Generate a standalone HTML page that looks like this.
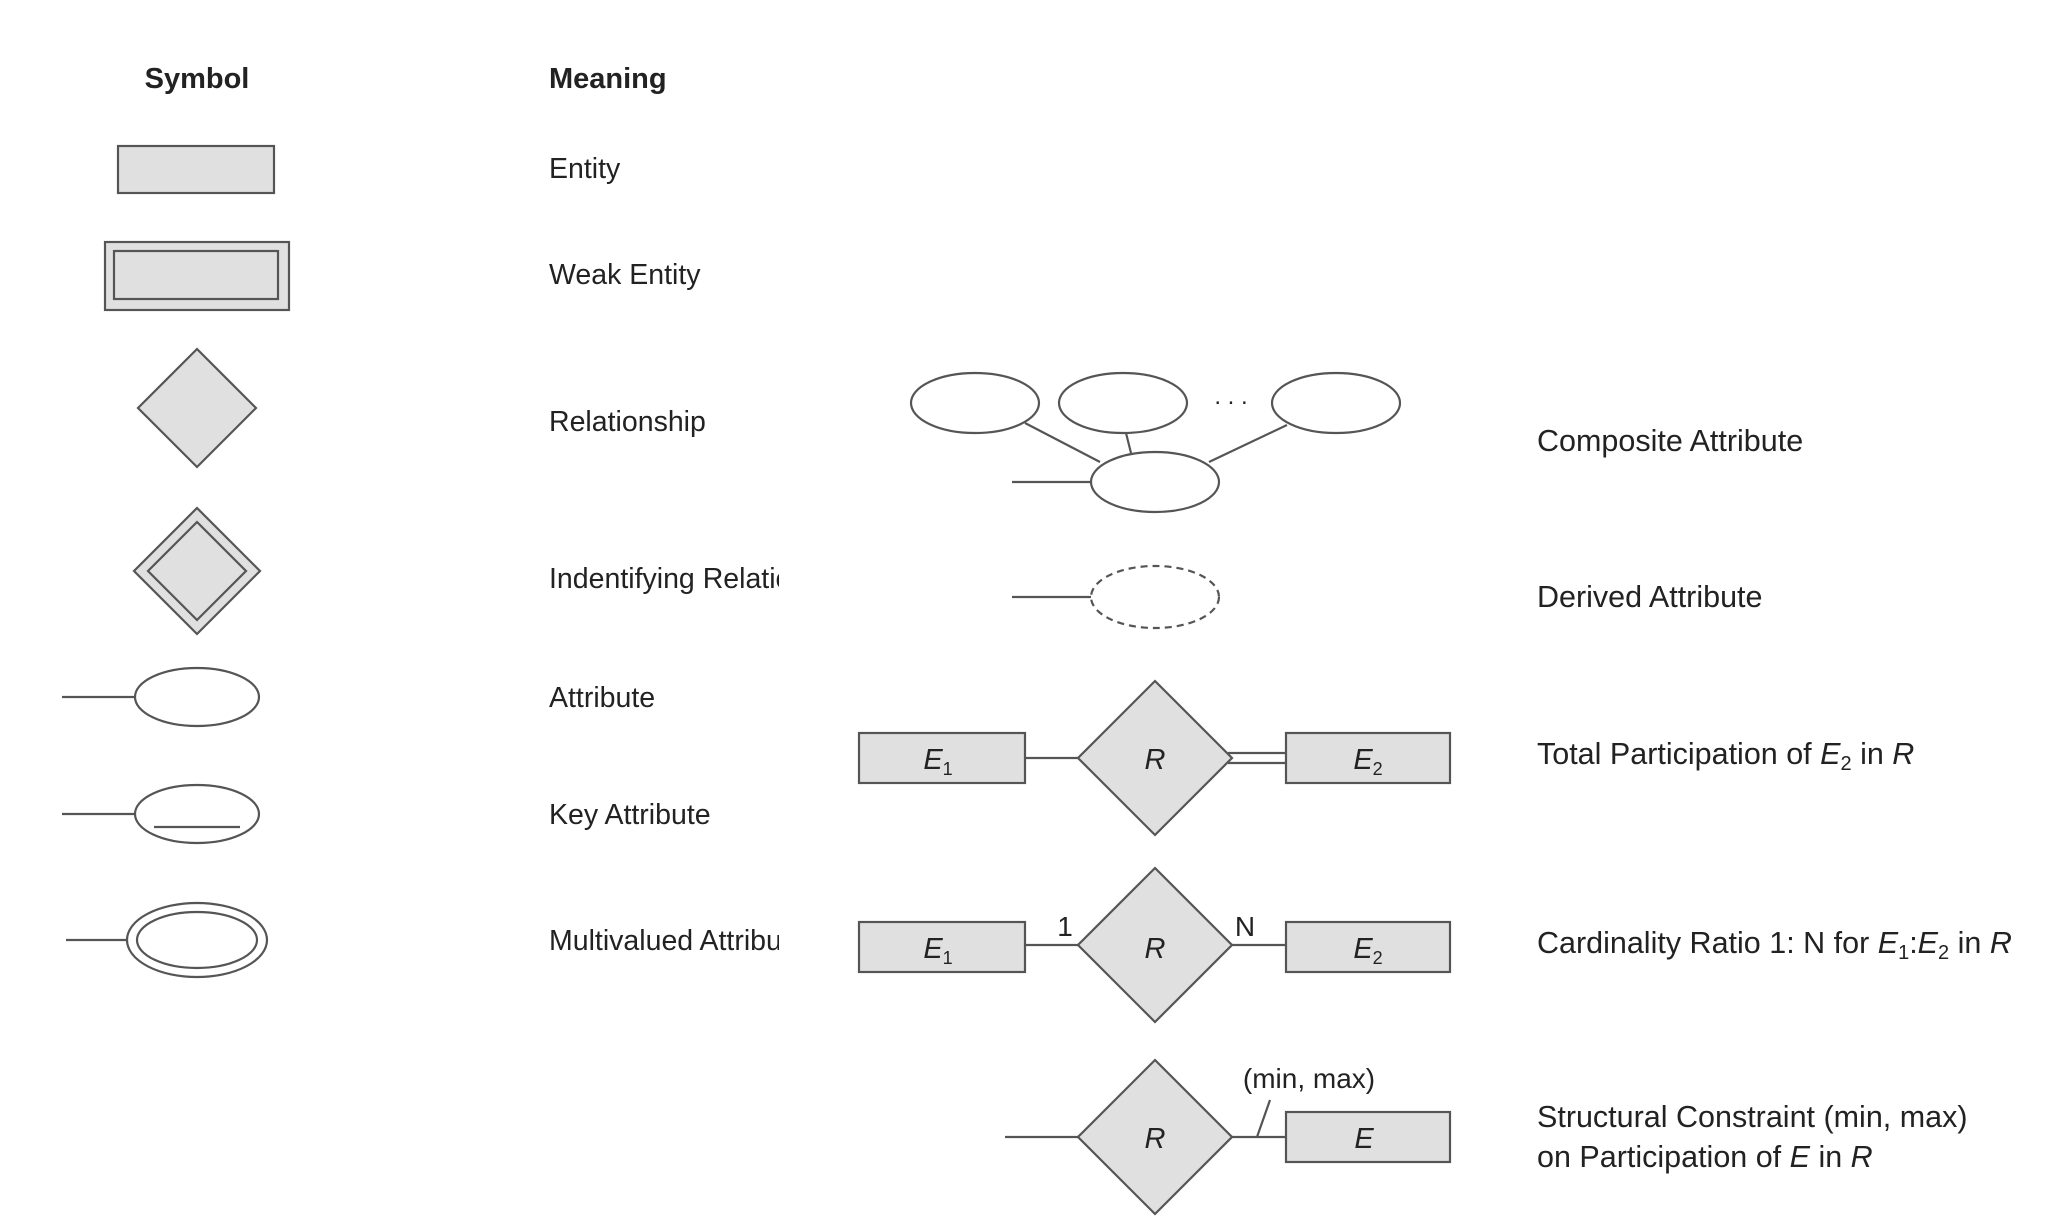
<!DOCTYPE html>
<html><head><meta charset="utf-8"><style>
html,body{margin:0;padding:0;background:#fff;}
svg{display:block;}
text{font-family:"Liberation Sans",Arial,sans-serif;fill:#222;}
</style></head><body>
<svg width="2048" height="1231" viewBox="0 0 2048 1231" xmlns="http://www.w3.org/2000/svg">
<g stroke="#555" stroke-width="2.2" fill="none">
<rect x="118" y="146" width="156" height="47" fill="#e0e0e0"/>
<rect x="105" y="242" width="184" height="68" fill="#e0e0e0"/>
<rect x="114" y="251" width="164" height="48" fill="#e0e0e0"/>
<polygon points="197,349 256,408 197,467 138,408" fill="#e0e0e0"/>
<polygon points="197,508 260,571 197,634 134,571" fill="#e0e0e0"/>
<polygon points="197,522 246,571 197,620 148,571" fill="#e0e0e0"/>
<line x1="62" y1="697" x2="135" y2="697"/>
<ellipse cx="197" cy="697" rx="62" ry="29" fill="#fff"/>
<line x1="62" y1="814" x2="135" y2="814"/>
<ellipse cx="197" cy="814" rx="62" ry="29" fill="#fff"/>
<line x1="154" y1="827" x2="240" y2="827"/>
<line x1="66" y1="940" x2="127" y2="940"/>
<ellipse cx="197" cy="940" rx="70" ry="37" fill="#fff"/>
<ellipse cx="197" cy="940" rx="60" ry="28" fill="#fff"/>
</g>
<g transform="translate(-6,0)">
<g stroke="#555" stroke-width="2.2" fill="none">
<line x1="1031" y1="423" x2="1106" y2="462"/>
<line x1="1132" y1="433" x2="1137" y2="453"/>
<line x1="1293" y1="425" x2="1215" y2="462"/>
<line x1="1018" y1="482" x2="1097" y2="482"/>
<ellipse cx="981" cy="403" rx="64" ry="30" fill="#fff"/>
<ellipse cx="1129" cy="403" rx="64" ry="30" fill="#fff"/>
<ellipse cx="1342" cy="403" rx="64" ry="30" fill="#fff"/>
<ellipse cx="1161" cy="482" rx="64" ry="30" fill="#fff"/>
<line x1="1018" y1="597" x2="1097" y2="597"/>
<ellipse cx="1161" cy="597" rx="64" ry="31" fill="#fff" stroke-dasharray="7,5"/>
<rect x="865" y="733" width="166" height="50" fill="#e0e0e0"/>
<rect x="1292" y="733" width="164" height="50" fill="#e0e0e0"/>
<line x1="1031" y1="758" x2="1084" y2="758"/>
<line x1="1234" y1="753" x2="1292" y2="753"/>
<line x1="1234" y1="763" x2="1292" y2="763"/>
<polygon points="1161,681 1238,758 1161,835 1084,758" fill="#e0e0e0"/>
<rect x="865" y="922" width="166" height="50" fill="#e0e0e0"/>
<rect x="1292" y="922" width="164" height="50" fill="#e0e0e0"/>
<line x1="1031" y1="945" x2="1084" y2="945"/>
<line x1="1238" y1="945" x2="1292" y2="945"/>
<polygon points="1161,868 1238,945 1161,1022 1084,945" fill="#e0e0e0"/>
<rect x="1292" y="1112" width="164" height="50" fill="#e0e0e0"/>
<line x1="1011" y1="1137" x2="1084" y2="1137"/>
<line x1="1238" y1="1137" x2="1292" y2="1137"/>
<line x1="1263" y1="1137" x2="1276" y2="1100"/>
<polygon points="1161,1060 1238,1137 1161,1214 1084,1137" fill="#e0e0e0"/>
</g>
<text x="1237" y="404" font-size="24" text-anchor="middle">. . .</text>
<g font-size="29" text-anchor="middle" font-style="italic">
<text x="944" y="769">E<tspan font-size="18" dy="6" font-style="normal">1</tspan></text>
<text x="1374" y="769">E<tspan font-size="18" dy="6" font-style="normal">2</tspan></text>
<text x="1161" y="769">R</text>
<text x="944" y="958">E<tspan font-size="18" dy="6" font-style="normal">1</tspan></text>
<text x="1374" y="958">E<tspan font-size="18" dy="6" font-style="normal">2</tspan></text>
<text x="1161" y="958">R</text>
<text x="1161" y="1148">R</text>
<text x="1370" y="1148">E</text>
</g>
<text x="1071" y="936" font-size="28" text-anchor="middle">1</text>
<text x="1251" y="936" font-size="28" text-anchor="middle">N</text>
<text x="1315" y="1088" font-size="28" text-anchor="middle">(min, max)</text>
</g>
<text x="197" y="88" font-size="29" font-weight="bold" text-anchor="middle">Symbol</text>
<text x="549" y="88" font-size="29" font-weight="bold">Meaning</text>
<g font-size="28.5">
<text x="549" y="178">Entity</text>
<text x="549" y="284">Weak Entity</text>
<text x="549" y="431">Relationship</text>
<svg x="0" y="0" width="779" height="1231" overflow="hidden"><text x="549" y="588" font-size="28.5">Indentifying Relationship</text><text x="549" y="950" font-size="28.5">Multivalued Attribute</text></svg>
<text x="549" y="707">Attribute</text>
<text x="549" y="824">Key Attribute</text>
</g>
<g font-size="30.5">
<text x="1537" y="451">Composite Attribute</text>
<text x="1537" y="607">Derived Attribute</text>
<text x="1537" y="764">Total Participation of <tspan font-style="italic">E</tspan><tspan font-size="20" dy="6">2</tspan><tspan dy="-6"> in </tspan><tspan font-style="italic">R</tspan></text>
<text x="1537" y="953">Cardinality Ratio 1: N for <tspan font-style="italic">E</tspan><tspan font-size="20" dy="6">1</tspan><tspan dy="-6">:</tspan><tspan font-style="italic">E</tspan><tspan font-size="20" dy="6">2</tspan><tspan dy="-6"> in </tspan><tspan font-style="italic">R</tspan></text>
<text x="1537" y="1127">Structural Constraint (min, max)</text>
<text x="1537" y="1167">on Participation of <tspan font-style="italic">E</tspan> in <tspan font-style="italic">R</tspan></text>
</g>
</svg>
</body></html>
